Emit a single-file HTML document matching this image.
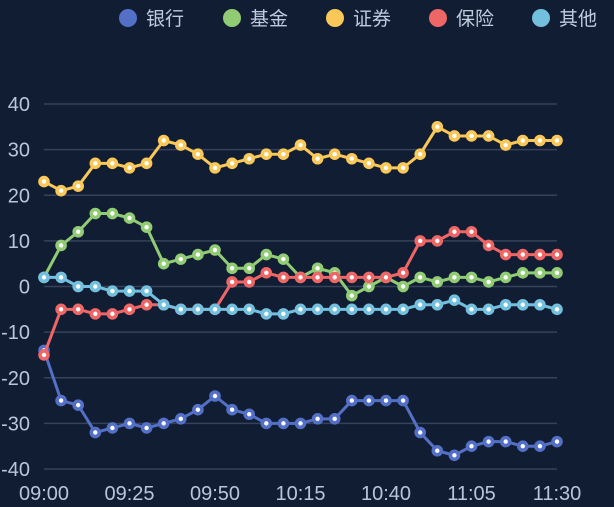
<!DOCTYPE html>
<html><head><meta charset="utf-8"><style>
html,body{margin:0;padding:0;background:#111d33;}
svg{display:block;font-family:"Liberation Sans","Noto Sans CJK SC",sans-serif;}
</style></head><body>
<svg id="chart" width="614" height="507" viewBox="0 0 614 507">
<rect width="614" height="507" fill="#111d33"/>
<g id="legend"></g>
<g id="grid"></g>
<g id="series"></g>
<g id="xlabels"></g>
</svg>
<script>
const categories = ["09:00","09:05","09:10","09:15","09:20","09:25","09:30","09:35","09:40","09:45","09:50","09:55","10:00","10:05","10:10","10:15","10:20","10:25","10:30","10:35","10:40","10:45","10:50","10:55","11:00","11:05","11:10","11:15","11:20","11:25","11:30"];
const seriesNames = ["银行","基金","证券","保险","其他"];
const bank = [-14,-25,-26,-32,-31,-30,-31,-30,-29,-27,-24,-27,-28,-30,-30,-30,-29,-29,-25,-25,-25,-25,-32,-36,-37,-35,-34,-34,-35,-35,-34];
const fund = [2,9,12,16,16,15,13,5,6,7,8,4,4,7,6,2,4,3,-2,0,2,0,2,1,2,2,1,2,3,3,3];
const securities = [23,21,22,27,27,26,27,32,31,29,26,27,28,29,29,31,28,29,28,27,26,26,29,35,33,33,33,31,32,32,32];
const insurance = [-15,-5,-5,-6,-6,-5,-4,-4,-5,-5,-5,1,1,3,2,2,2,2,2,2,2,3,10,10,12,12,9,7,7,7,7];
const other = [2,2,0,0,-1,-1,-1,-4,-5,-5,-5,-5,-5,-6,-6,-5,-5,-5,-5,-5,-5,-5,-4,-4,-3,-5,-5,-4,-4,-4,-5];
const yTicks = [-40,-30,-20,-10,0,10,20,30,40];
const xTickLabels = ["09:00","09:25","09:50","10:15","10:40","11:05","11:30"];
const colors = ["#5470c6","#91cc75","#fac858","#ee6666","#73c0de"];
const NS="http://www.w3.org/2000/svg";
const x0=44,x1=557,yTop=104,yBot=469;
function xScale(i){return x0+(x1-x0)*i/(categories.length-1);}
function yScale(v){return yBot-(v+40)/80*(yBot-yTop);}
function mk(tag,attrs,parent){const e=document.createElementNS(NS,tag);for(const k in attrs)e.setAttribute(k,attrs[k]);parent.appendChild(e);return e;}
const grid=document.getElementById('grid');
yTicks.forEach(t=>{
  const l=mk('line',{x1:x0,x2:x1,y1:yScale(t),y2:yScale(t),stroke:'#35425a','stroke-width':1.5},grid);
  
  
  const tx=mk('text',{x:30,y:yScale(t)+7,'text-anchor':'end','font-size':20,fill:'#b8c5dc'},grid);
  tx.textContent=t;
  
  
});
const xl=document.getElementById('xlabels');
xTickLabels.forEach(lab=>{
  const i=categories.indexOf(lab);
  const tx=mk('text',{x:xScale(i),y:500,'text-anchor':'middle','font-size':20,fill:'#b8c5dc'},xl);
  tx.textContent=lab;
  
  
});
const allSeries=[bank,fund,securities,insurance,other];
const sg=document.getElementById('series');
[0,1,2,3,4].forEach(s=>{
  const data=allSeries[s];
  const g=mk('g',{},sg);
  
  
  const pts=data.map((v,i)=>xScale(i)+','+yScale(v)).join(' ');
  const pl=mk('polyline',{points:pts,fill:'none',stroke:colors[s],'stroke-width':3,'stroke-linejoin':'round'},g);
  
  
  data.forEach((v,i)=>{
    const c=mk('circle',{cx:xScale(i),cy:yScale(v),r:4,fill:'#ffffff',stroke:colors[s],'stroke-width':3.6},g);
    
    
  });
});
const lg=document.getElementById('legend');
const lx=[128,232,335,438,541];
seriesNames.forEach((n,i)=>{
  const g=mk('g',{},lg);
  
  
  mk('circle',{cx:lx[i],cy:18,r:9,fill:colors[i]},g);
  const t=mk('text',{x:lx[i]+18,y:25,'font-size':19,fill:'#c0cbe0'},g);
  t.textContent=n;
});
</script>
</body></html>
